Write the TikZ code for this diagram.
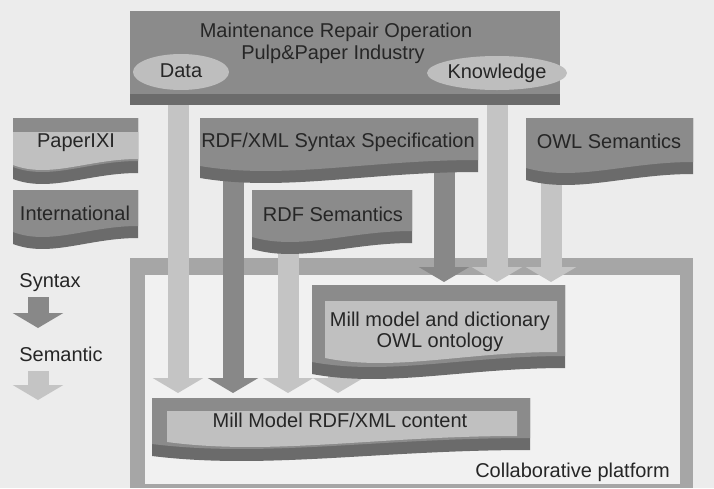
\documentclass[tikz,border=0pt]{standalone}
\usepackage{fontspec}
\setmainfont{Liberation Sans}
\usetikzlibrary{arrows.meta,shapes.geometric,calc}
\definecolor{bgc}{HTML}{ECECEC}
\definecolor{darkface}{HTML}{8B8B8B}
\definecolor{bandc}{HTML}{6B6B6B}
\definecolor{lightface}{HTML}{C0C0C0}
\definecolor{ellc}{HTML}{BEBEBE}
\definecolor{lightarr}{HTML}{C4C4C4}
\definecolor{darkarr}{HTML}{888888}
\definecolor{framec}{HTML}{A6A6A6}
\definecolor{innerc}{HTML}{F1F1F1}
\definecolor{txt}{HTML}{262626}
\pgfdeclarelayer{back}
\pgfdeclarelayer{mid}
\pgfsetlayers{back,mid,main}
\newcommand\docshape[5]{\fill[#5] (#1,#2) -- (#3,#2) -- (#3,{#4-6}) .. controls ({#1+0.6*(#3-#1)},{#4-6}) and ({#1+0.3*(#3-#1)},{#4+14}) .. (#1,#4) -- cycle;}
\begin{document}
\begin{tikzpicture}[x=1pt,y=-1pt,
  lbl/.style={font=\fontsize{20}{21}\selectfont, text=txt, inner sep=0pt},
  ell/.style={lbl, ellipse, fill=ellc, text height=14pt, text depth=4pt},
  bigarrow/.style={line width=21pt, -{Triangle[width=50pt,length=15pt]}},
  larrow/.style={bigarrow, draw=lightarr},
  darrow/.style={bigarrow, draw=darkarr}]
\useasboundingbox (0,0) rectangle (714,488);
\begin{pgfonlayer}{back}
\fill[bgc] (0,0) rectangle (714,488);
\fill[framec] (130,258) rectangle (693,488);
\fill[innerc] (145,275) rectangle (680,484);
\end{pgfonlayer}
% top box
\fill[bandc] (130,92) rectangle (560,105);
\fill[darkface] (130,11) rectangle (560,94);
\node[lbl, anchor=base] (t1) at (336,37) {Maintenance Repair Operation};
\node[lbl, anchor=base] (t2) at (333,59) {Pulp\&Paper Industry};
\node[ell, minimum width=96pt, minimum height=36pt] (data) at (181,72) {Data};
\node[ell, minimum width=115pt, minimum height=34pt] (know) at (497,73) {Knowledge};
% PaperIXI
\docshape{13}{118}{138}{179}{bandc}
\docshape{13}{118}{138}{167}{darkface}
\docshape{13}{132}{138}{165}{lightface}
\node[lbl, anchor=base] (paper) at (76,147) {PaperIXI};
% International
\docshape{13}{190}{138}{244}{bandc}
\docshape{13}{190}{138}{232}{darkface}
\node[lbl, anchor=base] (intl) at (75,220) {International};
% RDF/XML
\docshape{200}{118}{478}{178}{bandc}
\docshape{200}{118}{478}{166}{darkface}
\node[lbl, anchor=base] (rdfxml) at (338,147) {RDF/XML Syntax Specification};
% RDF Semantics
\docshape{252}{190}{412}{249}{bandc}
\docshape{252}{190}{412}{237}{darkface}
\node[lbl, anchor=base] (rdfsem) at (333,221) {RDF Semantics};
% OWL Semantics
\docshape{526}{118}{693}{180}{bandc}
\docshape{526}{118}{693}{168}{darkface}
\node[lbl, anchor=base] (owlsem) at (609,148) {OWL Semantics};
% Mill dict
\docshape{312}{285}{565}{374}{bandc}
\docshape{312}{285}{565}{362}{darkface}
\docshape{325}{301}{557}{358}{lightface}
\node[lbl, align=center] (mdict) at (440,332) {Mill model and dictionary\\OWL ontology};
% Mill RDF
\docshape{152}{398}{530}{456}{bandc}
\docshape{152}{398}{530}{444}{darkface}
\docshape{167}{411}{517}{442}{lightface}
\node[lbl, anchor=base] (mrdf) at (340,427) {Mill Model RDF/XML content};
\node[lbl, anchor=base east] (collab) at (670,477) {Collaborative platform};
% legend
\node[lbl, anchor=base] (syn) at (50,287) {Syntax};
\node[lbl, anchor=base] (sem) at (61,361) {Semantic};
\coordinate (s1) at (38,297);
\coordinate (s2) at (38,328);
\coordinate (m1) at (38,371);
\coordinate (m2) at (38,400);
\draw[darrow] (s1) -- (s2);
\draw[larrow] (m1) -- (m2);
% connectors
\begin{pgfonlayer}{mid}
\draw[larrow] ([xshift=-3pt]data.center) -- ($(mrdf.base)+(-162,-34)$);
\draw[darrow] ($(rdfxml.base)+(-105,8)$) -- ($(mrdf.base)+(-107,-34)$);
\draw[larrow] ($(rdfsem.base)+(-45,7)$) -- ($(mrdf.base)+(-52,-34)$);
\draw[larrow] ($(mdict.center)+(-102,18)$) -- ($(mrdf.base)+(-2,-34)$);
\draw[darrow] ($(rdfxml.base)+(106,8)$) -- ($(mdict.center)+(4,-50)$);
\draw[larrow] (know.center) -- ($(mdict.center)+(57,-50)$);
\draw[larrow] ($(owlsem.base)+(-58,7)$) -- ($(mdict.center)+(111,-50)$);
\end{pgfonlayer}
\end{tikzpicture}
\end{document}
